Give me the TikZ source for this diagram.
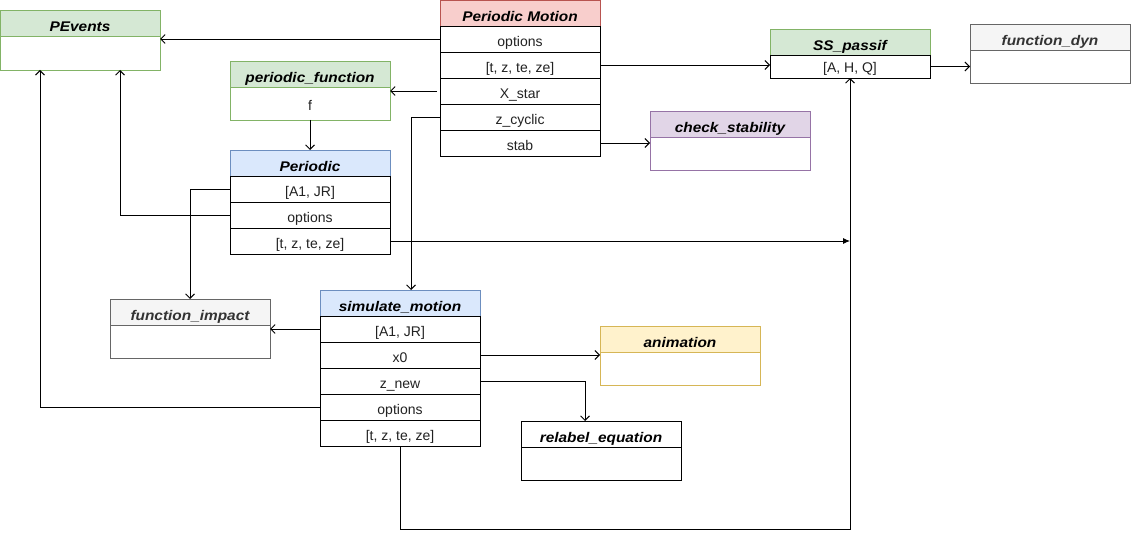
\documentclass[tikz,border=0pt]{standalone}
\usepackage{fontspec}
\setmainfont{Liberation Sans}
\newfontfamily\rowfont{Liberation Sans}
\newfontfamily\titlefont{Liberation Sans}[FakeStretch=1.1]
\usetikzlibrary{arrows.meta}
\definecolor{greenF}{HTML}{D5E8D4}\definecolor{greenD}{HTML}{82B366}
\definecolor{redF}{HTML}{F8CECC}\definecolor{redD}{HTML}{B85450}
\definecolor{blueF}{HTML}{DAE8FC}\definecolor{blueD}{HTML}{6C8EBF}
\definecolor{grayF}{HTML}{F5F5F5}\definecolor{grayD}{HTML}{666666}
\definecolor{purF}{HTML}{E1D5E7}\definecolor{purD}{HTML}{9673A6}
\definecolor{yelF}{HTML}{FFF2CC}\definecolor{yelD}{HTML}{D6B656}
\definecolor{txt}{HTML}{222222}
\definecolor{gtxt}{HTML}{333333}
\begin{document}
\begin{tikzpicture}[x=1pt,y=-1pt,
  box/.style={anchor=north west, minimum width=160pt, inner sep=0pt, outer sep=0pt, line width=0.9pt},
  hdr/.style={box, minimum height=26pt, text height=17pt, text depth=0pt, font={\fontsize{14}{16}\titlefont\bfseries\itshape}},
  rowbox/.style={box, draw=black, fill=white, minimum height=26pt, text height=15pt, text depth=0pt, text=txt, font={\fontsize{14}{16}\rowfont}},
  bodybox/.style={box, fill=white, minimum height=33pt},
  conn/.style={line width=0.9pt, -{Straight Barb[length=4.5pt,width=9pt]}},
  connf/.style={line width=0.9pt, -{Latex[length=7pt,width=6pt]}},
  line/.style={line width=0.9pt}]
\useasboundingbox (0,0) rectangle (1131,540);
\fill[white] (0,0) rectangle (1131,540);

% PEvents
\node[hdr, draw=greenD, fill=greenF] (peh) at (0,10) {PEvents};
\node[bodybox, draw=greenD, minimum height=34pt] (pevb) at (0,36) {};

% Periodic Motion
\node[hdr, draw=redD, fill=redF] (pmh) at (440,0) {Periodic Motion};
\node[rowbox] (pm1) at (440,26) {options};
\node[rowbox] (pm2) at (440,52) {[t, z, te, ze]};
\node[rowbox] (pm3) at (440,78) {X\_star};
\node[rowbox] (pm4) at (440,104) {z\_cyclic};
\node[rowbox] (pm5) at (440,130) {stab};

% periodic_function
\node[hdr, draw=greenD, fill=greenF] (pfh) at (230,61) {periodic\_function};
\node[rowbox, draw=greenD, minimum height=33pt] (pfb) at (230,87) {f};

% Periodic
\node[hdr, draw=blueD, fill=blueF] (ph) at (230,150) {Periodic};
\node[rowbox] (p1) at (230,176) {[A1, JR]};
\node[rowbox] (p2) at (230,202) {options};
\node[rowbox] (p3) at (230,228) {[t, z, te, ze]};

% SS_passif
\node[hdr, draw=greenD, fill=greenF] (ssh) at (770,29) {SS\_passif};
\node[rowbox, minimum height=23pt, text height=13pt] (ssb) at (770,55) {[A, H, Q]};

% function_dyn
\node[hdr, draw=grayD, fill=grayF, text=gtxt] (fdh) at (970,24) {function\_dyn};
\node[bodybox, draw=grayD] (fdb) at (970,50) {};

% check_stability
\node[hdr, draw=purD, fill=purF] (csh) at (650,111) {check\_stability};
\node[bodybox, draw=purD] (csb) at (650,137) {};

% function_impact
\node[hdr, draw=grayD, fill=grayF, text=gtxt] (fih) at (110,299) {function\_impact};
\node[bodybox, draw=grayD] (fib) at (110,325) {};

% simulate_motion
\node[hdr, draw=blueD, fill=blueF] (smh) at (320,290) {simulate\_motion};
\node[rowbox] (sm1) at (320,316) {[A1, JR]};
\node[rowbox] (sm2) at (320,342) {x0};
\node[rowbox] (sm3) at (320,368) {z\_new};
\node[rowbox] (sm4) at (320,394) {options};
\node[rowbox] (sm5) at (320,420) {[t, z, te, ze]};

% animation
\node[hdr, draw=yelD, fill=yelF] (anh) at (600,326) {animation};
\node[bodybox, draw=yelD] (anb) at (600,352) {};

% relabel_equation
\node[hdr, draw=black, fill=white] (rlh) at (521,421) {relabel\_equation};
\node[bodybox, draw=black] (rlb) at (521,447) {};

% connectors
\coordinate (zc) at (411,117);
\coordinate (bl) at (850,529);
\draw[conn] (pm1.west) -- (pm1.west -| pevb.east);
\draw[conn] (pm2.east) -- (pm2.east -| ssb.west);
\draw[conn] ([xshift=-3pt]pm3.west) -- (pm3.west -| pfb.east);
\draw[conn] (pm4.west) -- (zc) -- (zc |- smh.north);
\draw[conn] (pm5.east) -- (pm5.east -| csb.west);
\draw[conn] (pfb.south) -- (ph.north);
\draw[conn] (p1.west) -| (fih.north);
\draw[conn] (p2.west) -| ([xshift=40pt]pevb.south);
\draw[connf] (p3.east) -- (p3.east -| ssb.south);
\draw[conn] (sm5.south) |- (bl) -- (ssb.south);
\draw[conn] (ssb.east) -- (ssb.east -| fdb.west);
\draw[conn] (sm1.west) -- (sm1.west -| fib.east);
\draw[conn] (sm2.east) -- (sm2.east -| anb.west);
\draw[conn] (sm3.east) -| ([xshift=-16pt]rlh.north);
\draw[conn] (sm4.west) -| ([xshift=-40pt]pevb.south);
\end{tikzpicture}
\end{document}
